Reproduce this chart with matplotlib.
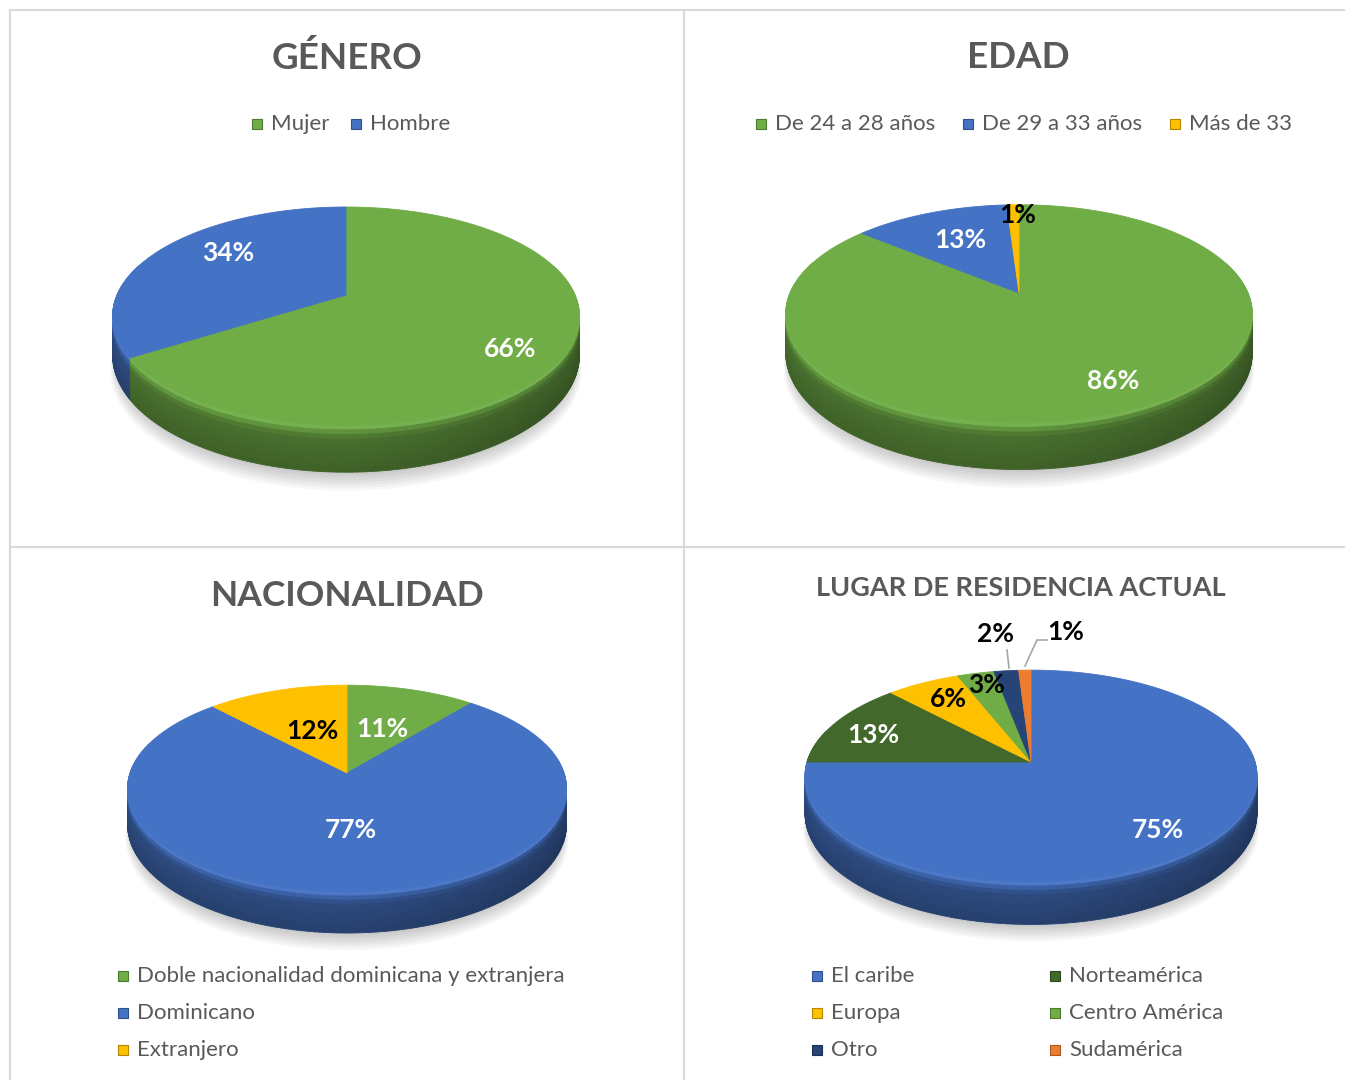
import numpy as np
import matplotlib
matplotlib.use("Agg")
import matplotlib.pyplot as plt
from matplotlib.patches import Polygon, Rectangle
from matplotlib.collections import PolyCollection
from matplotlib.colors import to_rgb

# ---------------- data ----------------
genero_labels = ["Mujer", "Hombre"]
genero_values = [66, 34]

edad_labels = ["De 24 a 28 años", "De 29 a 33 años", "Más de 33"]
edad_values = [86, 13, 1]

nac_labels = ["Doble nacionalidad dominicana y extranjera", "Dominicano", "Extranjero"]
nac_values = [11, 77, 12]

lugar_labels = ["El caribe", "Norteamérica", "Europa", "Centro América", "Otro", "Sudamérica"]
lugar_values = [75, 13, 6, 3, 2, 1]

# ---------------- style ----------------
GREEN = "#70AD47"
BLUE = "#4472C4"
YELLOW = "#FFC000"
DKGREEN = "#43682B"
NAVY = "#264478"
ORANGE = "#ED7D31"
TXT = "#595959"
LEGFS = 16
LABFS = 19

plt.rcParams["font.family"] = ["Lato", "DejaVu Sans"]

fig = plt.figure(figsize=(13.45, 10.8), dpi=100)
ax = fig.add_axes([0, 0, 1, 1])
ax.set_xlim(0, 1345)
ax.set_ylim(1080, 0)
ax.axis("off")

# panel borders
bc = "#d9d9d9"
ax.plot([10, 1345], [10, 10], color=bc, lw=1.5)
ax.plot([10, 10], [10, 1080], color=bc, lw=1.5)
ax.plot([684, 684], [10, 1080], color=bc, lw=1.5)
ax.plot([10, 1345], [547, 547], color=bc, lw=1.5)


def shade(c, f):
    r, g, b = to_rgb(c)
    if f <= 1:
        return (r * f, g * f, b * f)
    k = f - 1
    return (r + (1 - r) * k, g + (1 - g) * k, b + (1 - b) * k)


def draw_pie3d(values, colors, cx, cy, R, H, p, D):
    vals = np.asarray(values, float)
    fr = vals / vals.sum()
    bounds = 90 - 360 * np.concatenate([[0], np.cumsum(fr)])

    def P(r, tdeg, down=0.0):
        t = np.radians(tdeg)
        u = r * np.cos(t)
        v = r * np.sin(t)
        s = 1.0 / (1 + p * v)
        return cx + R * u * s, cy - H * v * s + down * s

    # soft shadow (mostly below the pie)
    ts = np.linspace(0, 360, 361)
    for k in range(7):
        xs, ys = P(0.985 + 0.004 * k, ts, D + 4 + 1.6 * k)
        ax.add_patch(Polygon(np.column_stack([xs, ys]), closed=True,
                             facecolor="black", edgecolor="none", alpha=0.03, zorder=1))

    # outer walls
    polys, cols, keys = [], [], []
    bands = np.linspace(0, 1, 11)
    for i in range(len(vals)):
        a0, a1 = bounds[i], bounds[i + 1]
        n = max(2, int(abs(a0 - a1) / 1.0) + 2)
        ang = np.linspace(a0, a1, n)
        for j in range(n - 1):
            tm = 0.5 * (ang[j] + ang[j + 1])
            vm = np.sin(np.radians(tm))
            um = np.cos(np.radians(tm))
            if vm > 0.3:
                continue
            af = 1 - 0.18 * max(0.0, um)
            for b in range(len(bands) - 1):
                s0, s1 = bands[b], bands[b + 1]
                sm = 0.5 * (s0 + s1)
                bf = np.interp(sm, [0, 0.08, 0.2, 0.35, 1.0], [1.12, 1.0, 0.74, 0.64, 0.56])
                f = bf * af if bf < 1 else bf
                x0, y0 = P(1, ang[j], D * s0)
                x1, y1 = P(1, ang[j + 1], D * s0)
                x2, y2 = P(1, ang[j + 1], D * s1)
                x3, y3 = P(1, ang[j], D * s1)
                polys.append([(x0, y0), (x1, y1), (x2, y2), (x3, y3)])
                cols.append(shade(colors[i], f))
                keys.append(vm)
    order = np.argsort(-np.asarray(keys), kind="stable")
    polys = [polys[k] for k in order]
    cols = [cols[k] for k in order]
    ax.add_collection(PolyCollection(polys, facecolors=cols, edgecolors=cols,
                                     linewidths=0.6, zorder=2))

    # top faces
    for i in range(len(vals)):
        a0, a1 = bounds[i], bounds[i + 1]
        n = max(3, int(abs(a0 - a1) / 0.5) + 2)
        ang = np.linspace(a0, a1, n)
        xs, ys = P(1, ang)
        pts = np.vstack([[cx, cy], np.column_stack([xs, ys])])
        ax.add_patch(Polygon(pts, closed=True, facecolor=colors[i],
                             edgecolor=colors[i], lw=0.6, zorder=3))


def legend_entry(x, y, lab, c, fs=LEGFS):
    ax.add_patch(Rectangle((x, y - 5), 10, 10, facecolor=c, edgecolor=shade(c, 0.7),
                           lw=0.8, zorder=5))
    ax.text(x + 19, y, lab, fontsize=fs, color=TXT, va="center", ha="left", zorder=5)


def hlegend(labels, colors, xc, y, fs=LEGFS, gap=28):
    r = fig.canvas.get_renderer()
    widths = []
    for lab in labels:
        t = ax.text(0, 0, lab, fontsize=fs)
        bb = t.get_window_extent(renderer=r)
        widths.append(bb.width)
        t.remove()
    ent = [10 + 9 + w for w in widths]
    total = sum(ent) + gap * (len(ent) - 1)
    x = xc - total / 2
    for lab, c, e in zip(labels, colors, ent):
        legend_entry(x, y, lab, c, fs)
        x += e + gap


def dlabel(x, y, txt, color):
    ax.text(x, y, txt, fontsize=LABFS, fontweight="bold", color=color,
            ha="center", va="center", zorder=6)


# ---------------- GÉNERO ----------------
ax.text(347, 58, "GÉNERO", fontsize=26.5, fontweight="bold", color=TXT, ha="center", va="center")
gcols = [GREEN, BLUE]
hlegend(genero_labels, gcols, 351, 124, gap=22)
draw_pie3d(genero_values, gcols, 346, 295, 229, 105, 0.193, 38)
glab_pos = [(510, 349), (228, 253)]
for v, (x, y) in zip(genero_values, glab_pos):
    dlabel(x, y, f"{v}%", "white")

# ---------------- EDAD ----------------
ax.text(1018, 58, "EDAD", fontsize=26.5, fontweight="bold", color=TXT, ha="center", va="center")
ecols = [GREEN, BLUE, YELLOW]
hlegend(edad_labels, ecols, 1024, 124, gap=28)
draw_pie3d(edad_values, ecols, 1019, 293, 229, 105, 0.19, 38)
elab_pos = [(1113, 381), (960, 240), (1018, 215)]
elab_col = ["white", "white", "black"]
for v, (x, y), c in zip(edad_values, elab_pos, elab_col):
    dlabel(x, y, f"{v}%", c)

# ---------------- NACIONALIDAD ----------------
ax.text(347, 596, "NACIONALIDAD", fontsize=25.5, fontweight="bold", color=TXT, ha="center", va="center")
ncols = [GREEN, BLUE, YELLOW]
draw_pie3d(nac_values, ncols, 347, 773, 217, 101, 0.15, 35)
nlab_pos = [(382, 729), (351, 830), (312, 731)]
nlab_col = ["white", "white", "black"]
for v, (x, y), c in zip(nac_values, nlab_pos, nlab_col):
    dlabel(x, y, f"{v}%", c)
for k, (lab, c) in enumerate(zip(nac_labels, ncols)):
    legend_entry(118, 976 + 37 * k, lab, c)

# ---------------- LUGAR DE RESIDENCIA ACTUAL ----------------
ax.text(1021, 588, "LUGAR DE RESIDENCIA ACTUAL", fontsize=19.5, fontweight="bold", color=TXT,
        ha="center", va="center")
lcols = [BLUE, DKGREEN, YELLOW, GREEN, NAVY, ORANGE]
draw_pie3d(lugar_values, lcols, 1031, 762, 224, 104, 0.132, 37)
llab_pos = [(1158, 830), (873, 735), (948, 699), (987, 685), (996, 634), (1066, 632)]
llab_col = ["white", "white", "black", "black", "black", "black"]
for v, (x, y), c in zip(lugar_values, llab_pos, llab_col):
    dlabel(x, y, f"{v}%", c)
# leader lines for the smallest slices
ax.plot([1007, 1009], [650, 668], color="#a6a6a6", lw=1.2, zorder=6)
ax.plot([1047, 1037, 1025], [640, 640, 666], color="#a6a6a6", lw=1.2, zorder=6)
for k, (lab, c) in enumerate(zip(lugar_labels, lcols)):
    col = k % 2
    row = k // 2
    legend_entry(812 + 238 * col, 976 + 37 * row, lab, c)

fig.savefig("out.png", dpi=100)
